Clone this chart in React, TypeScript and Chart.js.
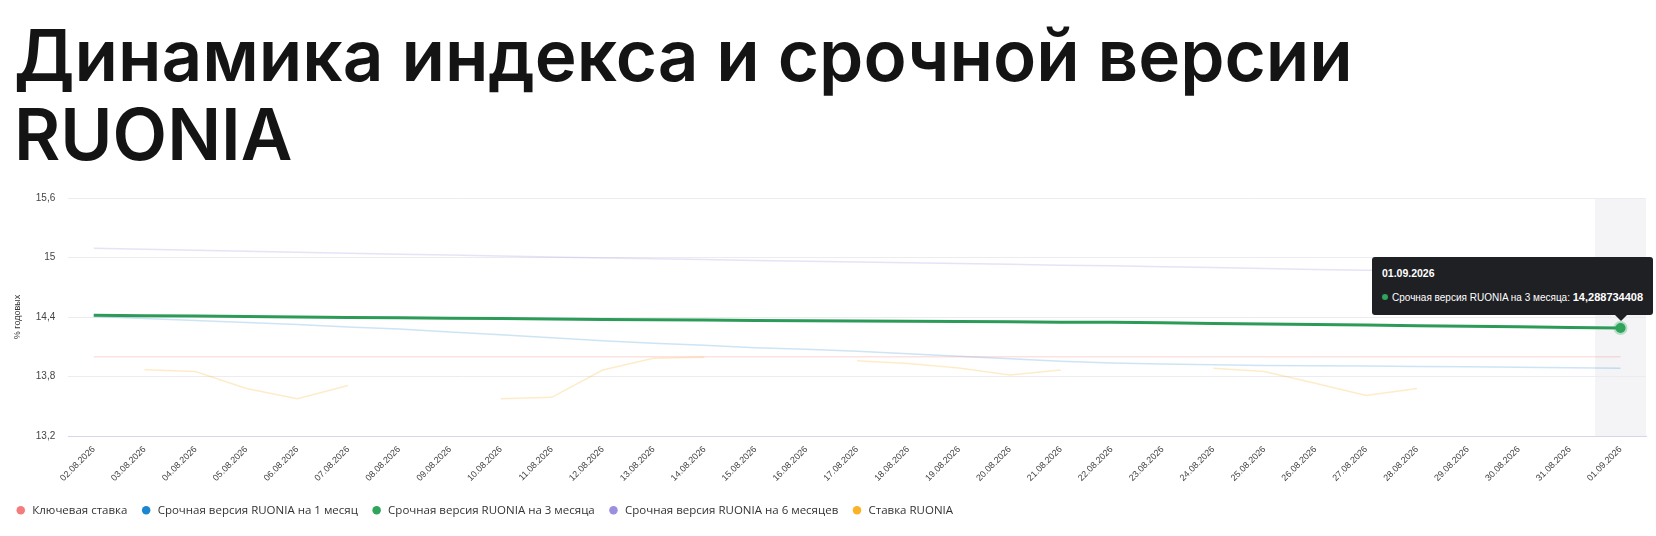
import React, { useEffect, useRef } from "react";
import { Chart, registerables } from "chart.js";

Chart.register(...registerables);

const dates = [
  "02.08.2026", "03.08.2026", "04.08.2026", "05.08.2026", "06.08.2026", "07.08.2026",
  "08.08.2026", "09.08.2026", "10.08.2026", "11.08.2026", "12.08.2026", "13.08.2026",
  "14.08.2026", "15.08.2026", "16.08.2026", "17.08.2026", "18.08.2026", "19.08.2026",
  "20.08.2026", "21.08.2026", "22.08.2026", "23.08.2026", "24.08.2026", "25.08.2026",
  "26.08.2026", "27.08.2026", "28.08.2026", "29.08.2026", "30.08.2026", "31.08.2026",
  "01.09.2026",
];

const keyRate = [
  14, 14, 14, 14, 14, 14, 14, 14, 14, 14, 14, 14, 14, 14, 14, 14,
  14, 14, 14, 14, 14, 14, 14, 14, 14, 14, 14, 14, 14, 14, 14,
];

const ruonia1m = [
  14.405, 14.385, 14.365, 14.345, 14.325, 14.3, 14.28, 14.25, 14.22, 14.19, 14.16,
  14.135, 14.115, 14.09, 14.075, 14.055, 14.03, 14.005, 13.98, 13.955, 13.935,
  13.925, 13.918, 13.912, 13.908, 13.905, 13.902, 13.898, 13.894, 13.889, 13.884,
];

const ruonia3m = [
  14.417, 14.413, 14.409, 14.404, 14.4, 14.396, 14.392, 14.388, 14.384, 14.379, 14.375,
  14.372, 14.369, 14.366, 14.363, 14.36, 14.357, 14.354, 14.351, 14.348, 14.346,
  14.341, 14.335, 14.33, 14.324, 14.319, 14.313, 14.307, 14.301, 14.295, 14.288734408,
];

const ruonia6m = [
  15.094, 15.084, 15.074, 15.064, 15.054, 15.044, 15.034, 15.024, 15.014, 15.004, 14.995,
  14.987, 14.979, 14.971, 14.963, 14.955, 14.947, 14.939, 14.931, 14.923, 14.916,
  14.907, 14.898, 14.889, 14.88, 14.872, 14.864, 14.856, 14.848, 14.84, 14.832,
];

const ruoniaRate = [
  null, 13.867, 13.85, 13.68, 13.575, 13.71, null, null, 13.575, 13.59, 13.865,
  13.985, 13.995, null, null, 13.96, 13.93, 13.885, 13.815, 13.865, null,
  null, 13.884, 13.85, 13.733, 13.608, 13.68, null, null, null, null,
];

const seriesNames = [
  "Ключевая ставка",
  "Срочная версия RUONIA на 1 месяц",
  "Срочная версия RUONIA на 3 месяца",
  "Срочная версия RUONIA на 6 месяцев",
  "Ставка RUONIA",
];
const seriesColors = ["#f47c7c", "#1c86d1", "#2ea55b", "#9b8fe0", "#fbb224"];
const fadedColors = [
  "rgba(244,124,124,0.22)",
  "rgba(28,134,209,0.22)",
  "#2c9b58",
  "rgba(155,143,224,0.25)",
  "rgba(251,178,36,0.25)",
];

const yTicks = [13.2, 13.8, 14.4, 15, 15.6];
const activeSeries = 2;

const fmt = (v: number) => String(Number(v.toFixed(9))).replace(".", ",");

// grey column behind the hovered category
const bandPlugin = {
  id: "activeBand",
  beforeDraw(chart: any) {
    const active = chart.getActiveElements();
    if (!active.length) return;
    const { ctx, chartArea, scales } = chart;
    const x = scales.x;
    const half = (x.getPixelForValue(1) - x.getPixelForValue(0)) / 2;
    const cx = x.getPixelForValue(active[0].index);
    ctx.save();
    ctx.fillStyle = "#f4f4f6";
    ctx.fillRect(cx - half, chartArea.top, half * 2, chartArea.bottom - chartArea.top);
    ctx.restore();
  },
};

export default function App() {
  const canvasRef = useRef<HTMLCanvasElement | null>(null);
  const tipRef = useRef<HTMLDivElement | null>(null);
  const tipTitleRef = useRef<HTMLDivElement | null>(null);
  const tipDotRef = useRef<HTMLSpanElement | null>(null);
  const tipLabelRef = useRef<HTMLSpanElement | null>(null);
  const tipValueRef = useRef<HTMLSpanElement | null>(null);
  const caretRef = useRef<HTMLDivElement | null>(null);

  useEffect(() => {
    document.body.style.margin = "0";
    if (!canvasRef.current) return;

    const external = ({ chart, tooltip }: any) => {
      const tip = tipRef.current;
      if (!tip) return;
      if (tooltip.opacity === 0 || !tooltip.dataPoints?.length) {
        tip.style.opacity = "0";
        return;
      }
      const dp = tooltip.dataPoints[0];
      tipTitleRef.current!.textContent = dp.label;
      tipLabelRef.current!.textContent = dp.dataset.label + ": ";
      tipValueRef.current!.textContent = fmt(dp.raw);
      tipDotRef.current!.style.background = seriesColors[dp.datasetIndex];
      tip.style.opacity = "1";
      const wrap = tip.parentElement as HTMLElement;
      const w = tip.offsetWidth;
      const h = tip.offsetHeight;
      const cx = chart.canvas.offsetLeft + tooltip.caretX;
      const cy = chart.canvas.offsetTop + tooltip.caretY;
      const left = Math.min(Math.max(cx - w / 2, 0), wrap.clientWidth - w - 3);
      tip.style.left = left + "px";
      tip.style.top = cy - h - 13 + "px";
      caretRef.current!.style.left = cx - left - 6 + "px";
    };

    const all = [keyRate, ruonia1m, ruonia3m, ruonia6m, ruoniaRate];

    const chart = new Chart(canvasRef.current, {
      type: "line",
      data: {
        labels: dates,
        datasets: all.map((data, i) => ({
          label: seriesNames[i],
          data,
          borderColor: fadedColors[i],
          borderWidth: i === activeSeries ? 3 : 1.5,
          pointRadius: 0,
          pointHoverRadius: i === activeSeries ? 5 : 0,
          pointHoverBorderWidth: 4,
          pointHoverBorderColor: "rgba(46,165,91,0.3)",
          pointHoverBackgroundColor: seriesColors[i],
          pointBackgroundColor: seriesColors[i],
          pointBorderColor: seriesColors[i],
          pointBorderWidth: 0,
          tension: 0,
          spanGaps: false,
          order: i === activeSeries ? 0 : 1,
        })),
      },
      options: {
        animation: false,
        responsive: true,
        maintainAspectRatio: false,
        events: [],
        layout: { padding: { top: 24, right: 10, left: 2, bottom: 10 } },
        scales: {
          x: {
            offset: true,
            grid: { display: false, drawTicks: false },
            border: { color: "#d6d6e6" },
            ticks: {
              autoSkip: false,
              minRotation: 45,
              maxRotation: 45,
              padding: 8,
              color: "#444",
              font: { family: "'Liberation Sans', Arial, sans-serif", size: 9 },
            },
          },
          y: {
            min: 13.2,
            max: 15.6,
            afterBuildTicks: (scale: any) => {
              scale.ticks = yTicks.map((value) => ({ value }));
            },
            grid: {
              drawTicks: false,
              color: (ctx: any) => (ctx.tick && ctx.tick.value === 13.2 ? "#d6d6e6" : "#ebebf0"),
            },
            border: { display: false },
            ticks: {
              padding: 13,
              color: "#444",
              font: { family: "'Liberation Sans', Arial, sans-serif", size: 10 },
              callback: (v: any) => fmt(Number(v)),
            },
            title: {
              display: true,
              text: "% годовых",
              color: "#333",
              padding: { top: 10, bottom: 0 },
              font: { family: "'Liberation Sans', Arial, sans-serif", size: 9 },
            },
          },
        },
        plugins: {
          legend: {
            position: "bottom",
            align: "start",
            labels: {
              usePointStyle: true,
              pointStyle: "circle",
              boxWidth: 16,
              boxHeight: 6,
              padding: 13,
              color: "#333",
              font: { family: "'Open Sans', sans-serif", size: 11.5 },
              sort: (a: any, b: any) => a.datasetIndex - b.datasetIndex,
            },
          },
          tooltip: { enabled: false, external },
        },
      },
      plugins: [bandPlugin],
    } as any);

    const active = [{ datasetIndex: activeSeries, index: dates.length - 1 }];
    chart.setActiveElements(active);
    chart.update();
    const el: any = chart.getDatasetMeta(activeSeries).data[dates.length - 1];
    chart.tooltip?.setActiveElements(active, { x: el.x, y: el.y });

    return () => {
      chart.destroy();
    };
  }, []);

  return (
    <div style={{ width: "100%", background: "#fff" }}>
      <h1
        style={{
          margin: 0,
          padding: "16px 0 0 14px",
          maxWidth: 1450,
          fontFamily: "Inter, sans-serif",
          fontWeight: 600,
          fontSize: 71,
          lineHeight: "79px",
          color: "#141414",
          height: 158,
        }}
      >
        Динамика индекса и срочной версии RUONIA
      </h1>
      <div style={{ position: "relative", height: 362 }}>
        <canvas ref={canvasRef}></canvas>
        <div
          ref={tipRef}
          style={{
            position: "absolute",
            left: 0,
            top: 0,
            opacity: 0,
            pointerEvents: "none",
            background: "#1f2024",
            color: "#fff",
            borderRadius: 3,
            padding: "9px 10px 10px 10px",
            fontFamily: "'Liberation Sans', Arial, sans-serif",
            fontSize: 10,
            lineHeight: "14px",
            whiteSpace: "nowrap",
          }}
        >
          <div ref={tipTitleRef} style={{ fontWeight: 700, fontSize: 10.5, marginBottom: 10 }}></div>
          <div>
            <span
              ref={tipDotRef}
              style={{
                display: "inline-block",
                width: 6,
                height: 6,
                borderRadius: "50%",
                marginRight: 4,
                verticalAlign: "1px",
              }}
            ></span>
            <span ref={tipLabelRef}></span>
            <span ref={tipValueRef} style={{ fontWeight: 700, fontSize: 11 }}></span>
          </div>
          <div
            ref={caretRef}
            style={{
              position: "absolute",
              bottom: -6,
              width: 0,
              height: 0,
              borderLeft: "6px solid transparent",
              borderRight: "6px solid transparent",
              borderTop: "6px solid #1f2024",
            }}
          ></div>
        </div>
      </div>
    </div>
  );
}
